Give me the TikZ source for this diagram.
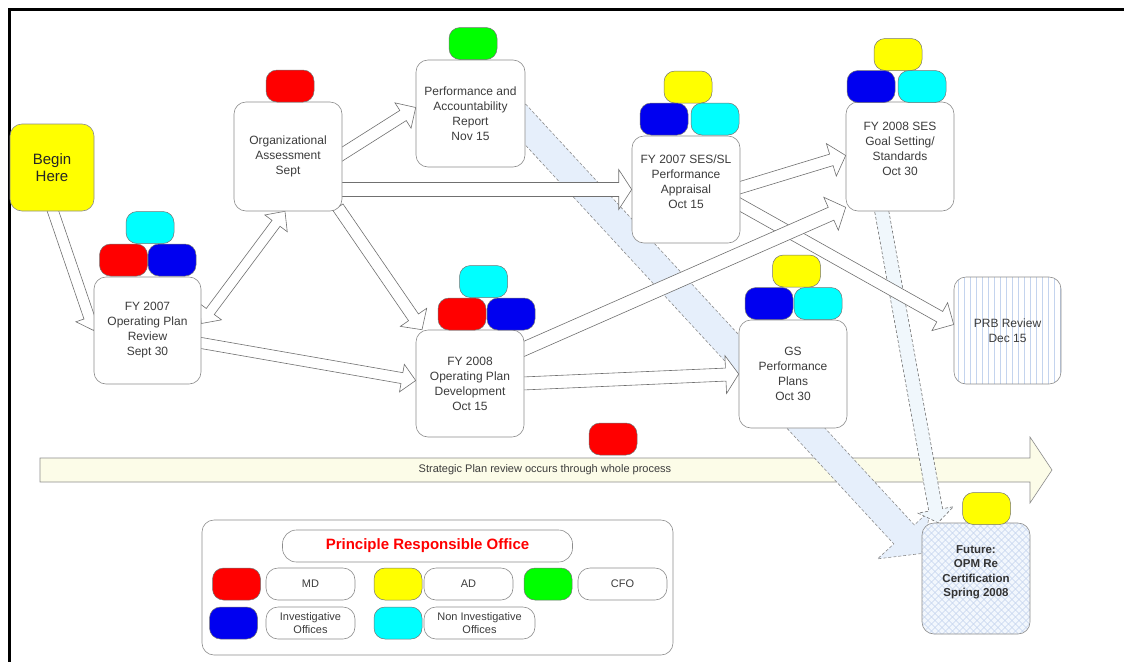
\documentclass[tikz,border=0pt]{standalone}
\usepackage{fontspec}
\setmainfont{Liberation Sans}
\usetikzlibrary{calc,backgrounds}

\definecolor{mdred}{HTML}{FF0000}
\definecolor{invblue}{HTML}{0000F0}
\definecolor{noninvcyan}{HTML}{00FFFF}
\definecolor{adyellow}{HTML}{FFFF00}
\definecolor{cfogreen}{HTML}{00FF00}
\definecolor{boxline}{HTML}{8C8C8C}
\definecolor{boxtext}{HTML}{3C3C3C}
\definecolor{bandblue}{HTML}{E6EFFB}
\definecolor{dashfill}{HTML}{F0F7FC}
\definecolor{stratfill}{HTML}{FCFCE8}
\definecolor{hatchblue}{HTML}{C4D4EE}
\definecolor{futback}{HTML}{F2F7FD}

\newcommand\blockarrow[6][]{%
  \coordinate (ba-s) at (#2);
  \coordinate (ba-e) at (#3);
  \coordinate (ba-h) at ($(ba-e)!#6!(ba-s)$);
  \draw[#1] ($(ba-s)!#4!90:(ba-e)$) -- ($(ba-h)!#4!-90:(ba-s)$) -- ($(ba-h)!#5!-90:(ba-s)$) -- (ba-e)
    -- ($(ba-h)!#5!90:(ba-s)$) -- ($(ba-h)!#4!90:(ba-s)$) -- ($(ba-s)!#4!-90:(ba-e)$) -- cycle;
}
\newcommand\dblarrow[6][]{%
  \coordinate (da-s) at (#2);
  \coordinate (da-e) at (#3);
  \coordinate (da-h) at ($(da-e)!#6!(da-s)$);
  \coordinate (da-t) at ($(da-s)!#6!(da-e)$);
  \draw[#1] (da-s) -- ($(da-t)!#5!-90:(da-e)$) -- ($(da-t)!#4!-90:(da-e)$) -- ($(da-h)!#4!90:(da-s)$)
    -- ($(da-h)!#5!90:(da-s)$) -- (da-e) -- ($(da-h)!#5!-90:(da-s)$) -- ($(da-h)!#4!-90:(da-s)$)
    -- ($(da-t)!#4!90:(da-e)$) -- ($(da-t)!#5!90:(da-e)$) -- cycle;
}

\tikzset{
  stepnode/.style={draw=boxline, fill=white, line width=0.6pt, rounded corners=12pt, minimum width=108pt, minimum height=107pt, inner sep=2pt, align=center, text=boxtext, font=\fontsize{12}{15}\selectfont},
  beginnode/.style={fill=adyellow, text=black!85, font=\fontsize{15}{17}\selectfont},
  prbfill/.style={path picture={\foreach \i in {4,10,...,106} \draw[hatchblue, line width=0.6pt] ([xshift=\i pt]path picture bounding box.south west) -- ([xshift=\i pt]path picture bounding box.north west);}},
  futfill/.style={fill=futback, text=black!80, font=\bfseries\fontsize{11.5}{14.5}\selectfont,
    path picture={\foreach \i in {-160,-153,...,160} {\draw[hatchblue, line width=0.4pt] ($(path picture bounding box.center)+(\i-80,-80)$) -- ($(path picture bounding box.center)+(\i+80,80)$); \draw[hatchblue, line width=0.4pt] ($(path picture bounding box.center)+(\i+80,-80)$) -- ($(path picture bounding box.center)+(\i-80,80)$);}}},
  pill/.style={draw=black!55, fill=#1, line width=0.5pt, rounded corners=11pt, minimum width=48pt, minimum height=32pt, inner sep=0pt},
  legendbox/.style={draw=boxline, line width=0.6pt, rounded corners=12pt, minimum width=471pt, minimum height=135pt},
  titlepill/.style={draw=boxline, fill=white, line width=0.6pt, rounded corners=14pt, minimum width=290pt, minimum height=32pt, text=mdred, font=\bfseries\fontsize{15}{17}\selectfont},
  keylabel/.style={draw=boxline, fill=white, line width=0.6pt, rounded corners=12pt, minimum width=89pt, minimum height=32pt, inner sep=1pt, align=center, text=boxtext, font=\fontsize{11}{13.5}\selectfont},
  strattext/.style={text=boxtext, font=\fontsize{11}{13}\selectfont},
  blockarr/.style={draw=boxline!80!black, fill=white, line width=0.6pt},
  bandarr/.style={draw=boxline, fill=bandblue, line width=0.6pt, dash pattern=on 3pt off 2pt},
  dasharr/.style={draw=boxline!80!black, fill=dashfill, line width=0.6pt, dash pattern=on 3pt off 2pt},
  stratarr/.style={draw=boxline, fill=stratfill, line width=0.6pt}
}

\begin{document}
\begin{tikzpicture}[x=1pt, y=-1pt]
\useasboundingbox (0,0) rectangle (1124,662);
\draw[line width=3pt] (1124,9) -- (9,9) -- (9,662);

\node[stepnode, beginnode, minimum width=84pt, minimum height=87pt] (begin) at (52,167.5) {Begin\\Here};
\node[stepnode, minimum height=109pt] (oa) at (288,156.5) {Organizational\\Assessment\\Sept};
\node[stepnode, minimum width=109pt] (par) at (470.5,113.5) {Performance and\\Accountability\\Report\\Nov 15};
\node[stepnode] (ses07) at (686,189.5) {FY 2007 SES/SL\\Performance\\Appraisal\\Oct 15\\\mbox{}};
\node[stepnode, minimum height=109pt] (ses08) at (900,156.5) {FY 2008 SES\\Goal Setting/\\Standards\\Oct 30\\\mbox{}};
\node[stepnode, prbfill, minimum width=107pt] (prb) at (1007.5,330.5) {PRB Review\\Dec 15};
\node[stepnode, minimum width=107pt] (opr) at (147.5,330.5) {FY 2007\\Operating Plan\\Review\\Sept 30};
\node[stepnode] (opd) at (470,383.5) {FY 2008\\Operating Plan\\Development\\Oct 15};
\node[stepnode, minimum height=108pt] (gs) at (793,374) {GS\\Performance\\Plans\\Oct 30};
\node[stepnode, futfill, minimum height=111pt] (fut) at (976,578.5) {Future:\\OPM Re\\Certification\\Spring 2008\\\mbox{}};

\node[pill=mdred] (oa-md) at (290,86) {};
\node[pill=cfogreen] (par-cfo) at (473,43.5) {};
\node[pill=adyellow] (ses07-ad) at (688,87) {};
\node[pill=invblue] (ses07-inv) at (664,119) {};
\node[pill=noninvcyan] (ses07-noninv) at (715,119) {};
\node[pill=adyellow] (ses08-ad) at (898,54.5) {};
\node[pill=invblue] (ses08-inv) at (871,86.5) {};
\node[pill=noninvcyan] (ses08-noninv) at (922,86.5) {};
\node[pill=adyellow] (gs-ad) at (796.5,271) {};
\node[pill=invblue] (gs-inv) at (769,303.5) {};
\node[pill=noninvcyan] (gs-noninv) at (818,303.5) {};
\node[pill=noninvcyan] (opr-noninv) at (150,227.5) {};
\node[pill=mdred] (opr-md) at (123.5,260) {};
\node[pill=invblue] (opr-inv) at (172,260) {};
\node[pill=noninvcyan] (opd-noninv) at (483.5,281.5) {};
\node[pill=mdred] (opd-md) at (462,314) {};
\node[pill=invblue] (opd-inv) at (511,314) {};
\node[pill=adyellow] (fut-ad) at (986.5,508.5) {};
\node[pill=mdred] (strat-md) at (613,439) {};

\node[strattext] (strat) at (545,470) {Strategic Plan review occurs through whole process};

\node[legendbox] (legend) at (437.5,587.5) {};
\node[titlepill] (legend-title) at (427.5,546) {Principle Responsible Office};
\node[pill=mdred] (key-md) at (236.5,584) {};
\node[keylabel] (lbl-md) at (310.5,584) {MD};
\node[pill=adyellow] (key-ad) at (398,584) {};
\node[keylabel] (lbl-ad) at (468.5,584) {AD};
\node[pill=cfogreen] (key-cfo) at (548,584) {};
\node[keylabel] (lbl-cfo) at (622.5,584) {CFO};
\node[pill=invblue] (key-inv) at (233.5,623) {};
\node[keylabel] (lbl-inv) at (310.5,623) {Investigative\\Offices};
\node[pill=noninvcyan] (key-noninv) at (398,623) {};
\node[keylabel, minimum width=111pt] (lbl-noninv) at (479.5,623) {Non Investigative\\Offices};

\begin{scope}[on background layer]
  \coordinate (strat-s) at (40,470);
  \coordinate (strat-e) at (1052,470);
  \blockarrow[stratarr]{strat-s}{strat-e}{12pt}{33pt}{22pt}
  \blockarrow[bandarr]{[xshift=-10pt]par.east}{[yshift=25pt]fut.west}{14pt}{36pt}{26pt}
  \blockarrow[dasharr]{[xshift=-19pt, yshift=4pt]ses08.south}{[xshift=-38pt]fut.north}{7pt}{18pt}{13pt}
  \blockarrow[blockarr]{[yshift=3pt]begin.south}{opr.west}{5.5pt}{14pt}{14pt}
  \dblarrow[blockarr]{[yshift=7pt]opr.east}{[xshift=-3pt]oa.south}{5pt}{14pt}{15pt}
  \blockarrow[blockarr]{[xshift=-3pt, yshift=-12pt]opr.east}{[yshift=3pt]opd.west}{5.5pt}{14pt}{14pt}
  \blockarrow[blockarr]{[xshift=-4pt]oa.east}{[yshift=6pt]par.west}{6pt}{15pt}{15pt}
  \blockarrow[blockarr]{[xshift=-2pt, yshift=-33pt]oa.east}{ses07.west}{7pt}{20pt}{13pt}
  \blockarrow[blockarr]{[xshift=50pt, yshift=4pt]oa.south}{[xshift=-48pt]opd.north}{6pt}{16pt}{15pt}
  \blockarrow[blockarr]{[xshift=-3pt, yshift=1pt]ses07.east}{[yshift=1pt]ses08.west}{6pt}{17pt}{15pt}
  \blockarrow[blockarr]{[xshift=-4pt, yshift=-13pt]ses07.east}{[yshift=6pt]prb.west}{6pt}{16pt}{16pt}
  \blockarrow[blockarr]{[xshift=-4pt, yshift=33pt]opd.east}{[yshift=4pt]ses08.south west}{7pt}{18pt}{16pt}
  \blockarrow[blockarr]{[xshift=-2pt]opd.east}{gs.west}{6.5pt}{19pt}{13pt}
\end{scope}
\end{tikzpicture}
\end{document}
